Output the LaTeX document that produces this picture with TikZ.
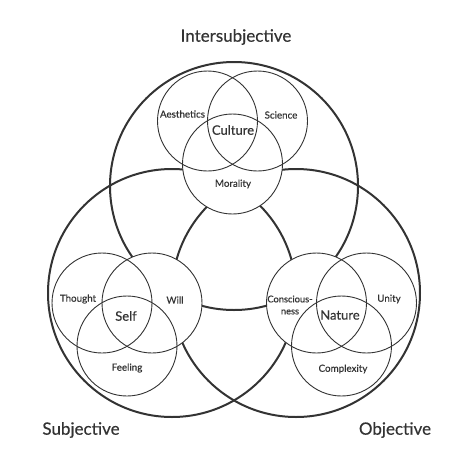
\documentclass[tikz,border=0pt]{standalone}
\usepackage{fontspec}
\setmainfont{Lato}[FakeBold=0.4]
\definecolor{ink}{HTML}{333333}
\begin{document}
\begin{tikzpicture}[x=1pt,y=-1pt,
  bigc/.style={circle,draw=ink,line width=2pt,inner sep=0pt,minimum size=248pt},
  smallfill/.style={circle,fill=white,inner sep=0pt,minimum size=100pt},
  smallc/.style={circle,draw=ink,line width=0.9pt,inner sep=0pt,minimum size=100pt},
  lbl/.style={text=ink,inner sep=0pt,font=\fontsize{9.8}{11}\selectfont},
  core/.style={text=ink,inner sep=0pt,font=\fontsize{13}{14}\selectfont},
  title/.style={text=ink,inner sep=0pt,font=\fontsize{17}{18}\selectfont}]
\useasboundingbox (0,0) rectangle (467,467);
% large circles
\node[bigc] (T) at (234,186) {};
\node[bigc] (L) at (172,293) {};
\node[bigc] (R) at (296,293) {};
% small circles: white fill first
\foreach \n/\x/\y in {a/207.5/121, s/257.5/121, m/232.5/164,
                      th/102/303, w/152/303, f/127/346,
                      c/316.5/303, u/366.5/303, x/341.5/346}
  \node[smallfill] (f\n) at (\x,\y) {};
\foreach \n/\x/\y in {a/207.5/121, s/257.5/121, m/232.5/164,
                      th/102/303, w/152/303, f/127/346,
                      c/316.5/303, u/366.5/303, x/341.5/346}
  \node[smallc] (\n) at (\x,\y) {};
% titles
\node[title] (tI) at (236,37) {Intersubjective};
\node[title] (tS) at (81,430) {Subjective};
\node[title] (tO) at (395,430) {Objective};
% top group labels
\node[lbl] (la) at (182.5,114) {Aesthetics};
\node[lbl] (ls) at (281,115) {Science};
\node[core] (lc) at (233,130) {Culture};
\node[lbl] (lm) at (233,184) {Morality};
% left group labels
\node[lbl] (lt) at (78,299) {Thought};
\node[lbl] (lw) at (175,300) {Will};
\node[core] (lse) at (126,316) {Self};
\node[lbl] (lf) at (127,368) {Feeling};
% right group labels
\node[lbl,align=center,font=\fontsize{9.3}{12}\selectfont] (lco) at (290,305) {Conscious-\\ness};
\node[lbl] (lu) at (389,299) {Unity};
\node[core] (ln) at (340,315) {Nature};
\node[lbl] (lx) at (343,369) {Complexity};
\end{tikzpicture}
\end{document}
